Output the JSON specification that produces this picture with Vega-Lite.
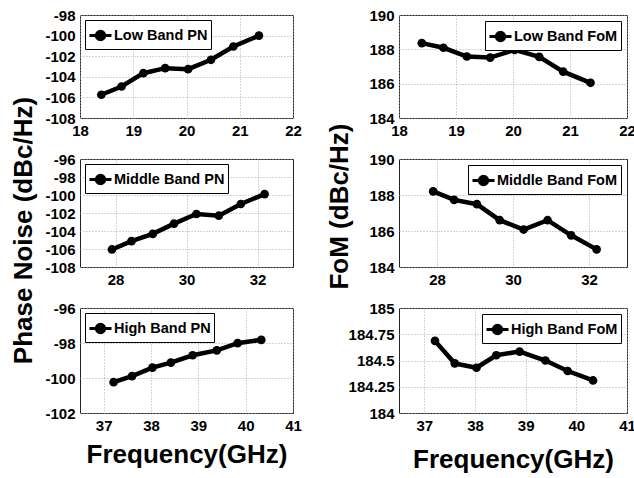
{
  "$schema": "https://vega.github.io/schema/vega-lite/v6.json",
  "padding": {"left": 10, "top": 7, "right": 0, "bottom": 5},
  "background": "white",
  "datasets": {
    "lowPN": [
      {"freq": 18.40, "value": -105.74, "series": "Low Band PN"},
      {"freq": 18.78, "value": -104.94, "series": "Low Band PN"},
      {"freq": 19.19, "value": -103.65, "series": "Low Band PN"},
      {"freq": 19.60, "value": -103.16, "series": "Low Band PN"},
      {"freq": 20.03, "value": -103.26, "series": "Low Band PN"},
      {"freq": 20.46, "value": -102.35, "series": "Low Band PN"},
      {"freq": 20.88, "value": -101.06, "series": "Low Band PN"},
      {"freq": 21.36, "value": -100.00, "series": "Low Band PN"}
    ],
    "lowFoM": [
      {"freq": 18.40, "value": 188.36, "series": "Low Band FoM"},
      {"freq": 18.78, "value": 188.09, "series": "Low Band FoM"},
      {"freq": 19.19, "value": 187.58, "series": "Low Band FoM"},
      {"freq": 19.60, "value": 187.52, "series": "Low Band FoM"},
      {"freq": 20.03, "value": 187.97, "series": "Low Band FoM"},
      {"freq": 20.46, "value": 187.56, "series": "Low Band FoM"},
      {"freq": 20.88, "value": 186.70, "series": "Low Band FoM"},
      {"freq": 21.36, "value": 186.05, "series": "Low Band FoM"}
    ],
    "midPN": [
      {"freq": 27.90, "value": -106.05, "series": "Middle Band PN"},
      {"freq": 28.45, "value": -105.13, "series": "Middle Band PN"},
      {"freq": 29.05, "value": -104.32, "series": "Middle Band PN"},
      {"freq": 29.65, "value": -103.18, "series": "Middle Band PN"},
      {"freq": 30.28, "value": -102.11, "series": "Middle Band PN"},
      {"freq": 30.91, "value": -102.30, "series": "Middle Band PN"},
      {"freq": 31.53, "value": -101.00, "series": "Middle Band PN"},
      {"freq": 32.20, "value": -99.90, "series": "Middle Band PN"}
    ],
    "midFoM": [
      {"freq": 27.90, "value": 188.20, "series": "Middle Band FoM"},
      {"freq": 28.45, "value": 187.73, "series": "Middle Band FoM"},
      {"freq": 29.05, "value": 187.49, "series": "Middle Band FoM"},
      {"freq": 29.65, "value": 186.60, "series": "Middle Band FoM"},
      {"freq": 30.28, "value": 186.08, "series": "Middle Band FoM"},
      {"freq": 30.91, "value": 186.60, "series": "Middle Band FoM"},
      {"freq": 31.53, "value": 185.76, "series": "Middle Band FoM"},
      {"freq": 32.20, "value": 184.98, "series": "Middle Band FoM"}
    ],
    "highPN": [
      {"freq": 37.21, "value": -100.24, "series": "High Band PN"},
      {"freq": 37.60, "value": -99.89, "series": "High Band PN"},
      {"freq": 38.03, "value": -99.41, "series": "High Band PN"},
      {"freq": 38.42, "value": -99.12, "series": "High Band PN"},
      {"freq": 38.88, "value": -98.70, "series": "High Band PN"},
      {"freq": 39.39, "value": -98.42, "series": "High Band PN"},
      {"freq": 39.83, "value": -98.01, "series": "High Band PN"},
      {"freq": 40.33, "value": -97.82, "series": "High Band PN"}
    ],
    "highFoM": [
      {"freq": 37.21, "value": 184.687, "series": "High Band FoM"},
      {"freq": 37.60, "value": 184.473, "series": "High Band FoM"},
      {"freq": 38.03, "value": 184.431, "series": "High Band FoM"},
      {"freq": 38.42, "value": 184.55, "series": "High Band FoM"},
      {"freq": 38.88, "value": 184.585, "series": "High Band FoM"},
      {"freq": 39.39, "value": 184.50, "series": "High Band FoM"},
      {"freq": 39.83, "value": 184.40, "series": "High Band FoM"},
      {"freq": 40.33, "value": 184.31, "series": "High Band FoM"}
    ]
  },
  "columns": 2,
  "spacing": {"row": 41, "column": 106},
  "bounds": "flush",
  "resolve": {"scale": {"color": "independent"}, "legend": {"color": "independent"}},
  "concat": [
    {
      "width": 213, "height": 103,
      "data": {"name": "lowPN"},
      "mark": {"type": "line", "strokeWidth": 4.5, "point": {"filled": true, "size": 75}},
      "encoding": {
        "x": {"field": "freq", "type": "quantitative", "scale": {"domain": [18, 22], "nice": false, "zero": false}, "axis": {"values": [18, 19, 20, 21, 22], "title": null}},
        "y": {"field": "value", "type": "quantitative", "scale": {"domain": [-108, -98], "nice": false, "zero": false}, "axis": {"values": [-108, -106, -104, -102, -100, -98], "title": null}},
        "color": {"field": "series", "type": "nominal", "scale": {"range": ["black"]}, "legend": {"orient": "top-left", "offset": 5}}
      }
    },
    {
      "width": 228, "height": 103,
      "data": {"name": "lowFoM"},
      "mark": {"type": "line", "strokeWidth": 4.5, "point": {"filled": true, "size": 75}},
      "encoding": {
        "x": {"field": "freq", "type": "quantitative", "scale": {"domain": [18, 22], "nice": false, "zero": false}, "axis": {"values": [18, 19, 20, 21, 22], "title": null}},
        "y": {"field": "value", "type": "quantitative", "scale": {"domain": [184, 190], "nice": false, "zero": false}, "axis": {"values": [184, 186, 188, 190], "title": null}},
        "color": {"field": "series", "type": "nominal", "scale": {"range": ["black"]}, "legend": {"orient": "top-right", "offset": 6}}
      }
    },
    {
      "width": 213, "height": 108,
      "data": {"name": "midPN"},
      "mark": {"type": "line", "strokeWidth": 4.5, "point": {"filled": true, "size": 75}},
      "encoding": {
        "x": {"field": "freq", "type": "quantitative", "scale": {"domain": [27, 33], "nice": false, "zero": false}, "axis": {"values": [28, 30, 32], "title": null}},
        "y": {"field": "value", "type": "quantitative", "scale": {"domain": [-108, -96], "nice": false, "zero": false}, "axis": {"values": [-108, -106, -104, -102, -100, -98, -96], "title": "Phase Noise (dBc/Hz)", "titlePadding": 8, "titleY": 71}},
        "color": {"field": "series", "type": "nominal", "scale": {"range": ["black"]}, "legend": {"orient": "top-left", "offset": 5}}
      }
    },
    {
      "width": 228, "height": 108,
      "data": {"name": "midFoM"},
      "mark": {"type": "line", "strokeWidth": 4.5, "point": {"filled": true, "size": 75}},
      "encoding": {
        "x": {"field": "freq", "type": "quantitative", "scale": {"domain": [27, 33], "nice": false, "zero": false}, "axis": {"values": [28, 30, 32], "title": null}},
        "y": {"field": "value", "type": "quantitative", "scale": {"domain": [184, 190], "nice": false, "zero": false}, "axis": {"values": [184, 186, 188, 190], "title": "FoM (dBc/Hz)", "titlePadding": 16, "titleY": 47}},
        "color": {"field": "series", "type": "nominal", "scale": {"range": ["black"]}, "legend": {"orient": "top-right", "offset": 6}}
      }
    },
    {
      "width": 213, "height": 105,
      "data": {"name": "highPN"},
      "mark": {"type": "line", "strokeWidth": 4.5, "point": {"filled": true, "size": 75}},
      "encoding": {
        "x": {"field": "freq", "type": "quantitative", "scale": {"domain": [36.5, 41], "nice": false, "zero": false}, "axis": {"values": [37, 38, 39, 40, 41], "title": "Frequency(GHz)", "titlePadding": 8}},
        "y": {"field": "value", "type": "quantitative", "scale": {"domain": [-102, -96], "nice": false, "zero": false}, "axis": {"values": [-102, -100, -98, -96], "title": null}},
        "color": {"field": "series", "type": "nominal", "scale": {"range": ["black"]}, "legend": {"orient": "top-left", "offset": 5}}
      }
    },
    {
      "width": 228, "height": 105,
      "data": {"name": "highFoM"},
      "mark": {"type": "line", "strokeWidth": 4.5, "point": {"filled": true, "size": 75}},
      "encoding": {
        "x": {"field": "freq", "type": "quantitative", "scale": {"domain": [36.5, 41], "nice": false, "zero": false}, "axis": {"values": [37, 38, 39, 40, 41], "title": "Frequency(GHz)", "titlePadding": 13}},
        "y": {"field": "value", "type": "quantitative", "scale": {"domain": [184, 185], "nice": false, "zero": false}, "axis": {"values": [184, 184.25, 184.5, 184.75, 185], "title": null}},
        "color": {"field": "series", "type": "nominal", "scale": {"range": ["black"]}, "legend": {"orient": "top-right", "offset": 6}}
      }
    }
  ],
  "config": {
    "font": "Liberation Sans",
    "view": {"stroke": "#222", "strokeWidth": 1},
    "line": {"color": "black"},
    "axis": {
      "labelFont": "Liberation Sans",
      "labelFontWeight": "bold",
      "labelFontSize": 15,
      "labelColor": "black",
      "labelPadding": 5,
      "labelFlush": false,
      "labelOverlap": false,
      "labelExpr": "datum.value + ''",
      "ticks": false,
      "domain": false,
      "grid": true,
      "gridColor": "#aaa",
      "gridDash": [1, 2],
      "gridWidth": 1,
      "titleFont": "Liberation Sans",
      "titleFontSize": 26,
      "titleFontWeight": "bold",
      "titleColor": "black"
    },
    "legend": {
      "title": null,
      "fillColor": "white",
      "strokeColor": "black",
      "padding": 3,
      "offset": 4,
      "labelFont": "Liberation Sans",
      "labelFontWeight": "bold",
      "labelFontSize": 14.5,
      "labelColor": "black",
      "labelOffset": 1,
      "symbolType": "M-1,0L1,0M-0.38,0A0.38,0.38,0,1,1,0.38,0A0.38,0.38,0,1,1,-0.38,0Z",
      "symbolSize": 484,
      "symbolStrokeWidth": 3,
      "symbolFillColor": "black",
      "symbolStrokeColor": "black"
    }
  }
}
